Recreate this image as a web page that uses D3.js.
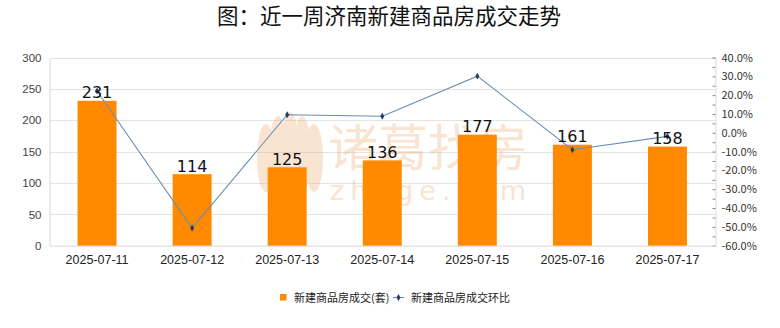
<!DOCTYPE html>
<html>
<head>
<meta charset="utf-8">
<script src="https://cdn.jsdelivr.net/npm/d3@7"></script>
<style>
  html, body { margin: 0; padding: 0; background: #fff; }
  svg { display: block; font-family: "Noto Sans CJK SC", "Noto Sans", sans-serif; }
</style>
</head>
<body>
<svg id="chart" width="780" height="328"></svg>
<script>
// Daily new-home transactions in Jinan over one week
const dates = ["2025-07-11", "2025-07-12", "2025-07-13", "2025-07-14", "2025-07-15", "2025-07-16", "2025-07-17"];
const deals = [231, 114, 125, 136, 177, 161, 158];
const changePct = [22.2, -50.6, 9.6, 8.8, 30.1, -9.0, -1.9];
const leftTicks = [0, 50, 100, 150, 200, 250, 300];
const rightTicks = [-60, -50, -40, -30, -20, -10, 0, 10, 20, 30, 40];
const titleText = "图：近一周济南新建商品房成交走势";
const seriesNames = ["新建商品房成交(套)", "新建商品房成交环比"];

const svg = d3.select("#chart");
const margin = { left: 49.5, right: 65, top: 57.5, bottom: 82.3 };
const W = 780, H = 328;
const x0 = margin.left, x1 = W - margin.right, y0 = H - margin.bottom, y1 = margin.top;

const x = d3.scaleBand().domain(dates).range([x0, x1]).paddingInner(0.59).paddingOuter(0.295);
const yL = d3.scaleLinear().domain([0, 300]).range([y0, y1]);
const yR = d3.scaleLinear().domain([-60, 40]).range([y0, y1]);

// title
svg.append("text").attr("x", 389).attr("y", 24).attr("text-anchor", "middle")
  .attr("font-size", 21.5).attr("font-weight", 400).attr("fill", "#111").text(titleText);

// horizontal grid
svg.append("g").selectAll("line").data(leftTicks.slice(1)).join("line")
  .attr("x1", x0).attr("x2", x1)
  .attr("y1", d => Math.round(yL(d)) + 0.5).attr("y2", d => Math.round(yL(d)) + 0.5)
  .attr("stroke", "#e3e3e3").attr("stroke-width", 1);

// watermark
const wm = svg.append("g").attr("opacity", 0.36);
const petals = [[-24, 30, 9, 34], [-12, 26, 9, 38], [0, 24, 9, 40], [12, 26, 9, 38], [24, 30, 9, 34]];
wm.selectAll("ellipse").data(petals).join("ellipse")
  .attr("cx", d => 290 + d[0]).attr("cy", d => 128 + d[1])
  .attr("rx", d => d[2]).attr("ry", d => d[3])
  .attr("fill", "#f0b585");
wm.append("text").attr("x", 328).attr("y", 166).attr("font-size", 50)
  .attr("fill", "#f0b585").attr("textLength", 200).text("诸葛找房");
wm.append("text").attr("x", 330).attr("y", 200).attr("font-size", 27)
  .attr("fill", "#f0b585").attr("textLength", 196).attr("font-family", "DejaVu Sans").text("zhuge.com");

// left axis
const gL = svg.append("g").attr("transform", `translate(${x0},0)`)
  .call(d3.axisLeft(yL).tickValues(leftTicks).tickSize(0).tickPadding(8));
gL.select(".domain").attr("stroke", "#d9d9d9");
gL.selectAll("text").attr("font-size", 11.5).attr("fill", "#444").attr("font-family", "Liberation Sans, Arial, sans-serif");

// right axis with minor ticks
const minor = d3.range(-55, 40, 10);
svg.append("g").attr("transform", `translate(${x1 + 0.5},0)`)
  .call(d3.axisLeft(yR).tickValues(minor).tickSize(3).tickFormat(""))
  .call(g => g.select(".domain").remove())
  .selectAll("line").attr("stroke", "#888");
const gR = svg.append("g").attr("transform", `translate(${x1 + 0.5},0)`)
  .call(d3.axisLeft(yR).tickValues(rightTicks).tickSize(3).tickFormat(d => d.toFixed(1) + "%"));
gR.select(".domain").attr("stroke", "#d9d9d9");
gR.selectAll("line").attr("stroke", "#888");
gR.selectAll("text").attr("text-anchor", "start").attr("x", 6).attr("font-size", 11)
  .attr("fill", "#333").attr("font-family", "Noto Sans CJK JP, sans-serif");

// x axis
const gX = svg.append("g").attr("transform", `translate(0,${y0})`)
  .call(d3.axisBottom(x).tickSize(0).tickPadding(9));
gX.select(".domain").attr("stroke", "#d9d9d9");
gX.selectAll("text").attr("font-size", 12.5).attr("fill", "#222").attr("font-family", "Liberation Sans, Arial, sans-serif");

// bars
svg.append("g").selectAll("rect").data(dates).join("rect")
  .attr("x", d => x(d)).attr("width", x.bandwidth())
  .attr("y", (d, i) => yL(deals[i])).attr("height", (d, i) => y0 - yL(deals[i]))
  .attr("fill", "#ff8a00");

// month-on-month line
const cx = d => x(d) + x.bandwidth() / 2;
const line = d3.line().x((d, i) => cx(dates[i])).y(d => yR(d));
svg.append("path").datum(changePct).attr("d", line)
  .attr("fill", "none").attr("stroke", "#6a8db3").attr("stroke-width", 1.1);
svg.append("g").selectAll("path").data(changePct).join("path")
  .attr("d", d3.symbol(d3.symbolDiamond, 14))
  .attr("transform", (d, i) => `translate(${cx(dates[i])},${yR(d)})`)
  .attr("fill", "#243f5e");

// bar value labels
svg.append("g").selectAll("text").data(deals).join("text")
  .attr("x", (d, i) => cx(dates[i])).attr("y", d => yL(d) - 2.5)
  .attr("text-anchor", "middle").attr("font-size", 16).attr("fill", "#111")
  .attr("font-family", "DejaVu Sans, sans-serif").text(d => d);

// legend
const lg = svg.append("g").attr("font-size", 11).attr("fill", "#222");
lg.append("rect").attr("x", 280).attr("y", 294).attr("width", 6.5).attr("height", 6.5).attr("fill", "#ff8a00");
lg.append("text").attr("x", 294).attr("y", 301.5).text(seriesNames[0]);
lg.append("line").attr("x1", 393).attr("x2", 404).attr("y1", 297.5).attr("y2", 297.5)
  .attr("stroke", "#6a8db3").attr("stroke-width", 1.1);
lg.append("path").attr("d", d3.symbol(d3.symbolDiamond, 14)).attr("transform", "translate(398.5,297.5)").attr("fill", "#243f5e");
lg.append("text").attr("x", 411).attr("y", 301.5).text(seriesNames[1]);
</script>
</body>
</html>
